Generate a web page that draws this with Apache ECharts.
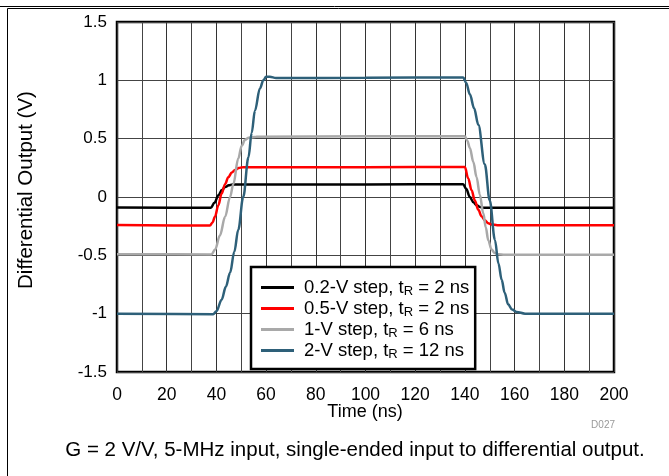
<!DOCTYPE html>
<html>
<head>
<meta charset="utf-8">
<script src="https://cdn.jsdelivr.net/npm/echarts@6/dist/echarts.min.js"></script>
<style>html,body{margin:0;padding:0;background:#fff;}#c{width:669px;height:476px;}</style>
</head>
<body>
<div id="c"></div>
<script>
var seriesNames = ['0.2-V step, t{sub|R} = 2 ns', '0.5-V step, t{sub|R} = 2 ns', '1-V step, t{sub|R} = 6 ns', '2-V step, t{sub|R} = 12 ns'];
var xTicks = [0, 20, 40, 60, 80, 100, 120, 140, 160, 180, 200];
var yTicks = [-1.5, -1, -0.5, 0, 0.5, 1, 1.5];

var step02 = [[0,-0.09],[37.8,-0.092],[39.2,-0.05],[40.8,0.014],[42.2,0.06],[43.5,0.085],[45,0.1],[46.5,0.108],[60,0.108],[100,0.108],[139.3,0.11],[140.5,0.07],[142,0.0],[143.4,-0.045],[144.7,-0.07],[146,-0.085],[147.6,-0.092],[170,-0.092],[200,-0.092]];
var step05 = [[0,-0.24],[37.4,-0.245],[38.4,-0.22],[39.4,-0.17],[40.8,-0.07],[42.1,0.03],[43.5,0.11],[44.8,0.17],[46.2,0.21],[47.5,0.232],[49,0.248],[50.5,0.255],[100,0.256],[140,0.258],[141.3,0.16],[142.7,0.057],[144,-0.03],[145.4,-0.11],[146.7,-0.165],[148,-0.2],[149.4,-0.225],[150.7,-0.235],[153,-0.242],[200,-0.243]];
var step1 = [[0,-0.49],[38,-0.492],[39.5,-0.45],[41.4,-0.33],[43.5,-0.17],[45.5,0.0],[46.8,0.11],[48.8,0.33],[50.2,0.44],[51.5,0.49],[53,0.508],[56,0.517],[100,0.52],[140,0.52],[141,0.48],[142,0.42],[143.4,0.3],[144.7,0.17],[146,0.02],[147.4,-0.14],[148.4,-0.26],[149.4,-0.37],[150.7,-0.45],[152,-0.48],[153.4,-0.49],[156,-0.495],[200,-0.495]];
var step2 = [[0,-1.0],[38.7,-1.005],[40,-0.98],[42.1,-0.88],[43.8,-0.77],[45.5,-0.65],[47.2,-0.47],[48.8,-0.28],[50.8,0.0],[52.9,0.34],[54.2,0.55],[55.5,0.74],[57.5,0.93],[58.9,1.0],[60,1.03],[61.5,1.03],[64,1.02],[100,1.022],[139.3,1.025],[140.5,0.98],[142,0.88],[143.7,0.76],[145.4,0.62],[148,0.28],[150,-0.03],[152.1,-0.37],[153.5,-0.57],[154.8,-0.71],[156,-0.82],[157.4,-0.92],[159,-0.965],[160.8,-0.985],[164.2,-1.0],[200,-1.0]];

var colors = ['#000000', '#ff0000', '#a9a9a9', '#2e6079'];
var dataSets = [step02, step05, step1, step2];
var FONT = 'Liberation Sans, Arial, sans-serif';

var chart = echarts.init(document.getElementById('c'));
var series = dataSets.map(function (d, i) {
  return {
    name: seriesNames[i],
    type: 'line',
    data: d,
    showSymbol: false,
    smooth: 0.35,
    smoothMonotone: 'x',
    lineStyle: { color: colors[i], width: 2.5 },
    itemStyle: { color: colors[i] },
    z: 3 + i
  };
});

chart.setOption({
  animation: false,
  backgroundColor: '#fff',
  textStyle: { fontFamily: FONT },
  grid: { left: 117, right: 55, top: 22, bottom: 104, show: true, borderColor: '#000', borderWidth: 2.5, backgroundColor: 'transparent' },
  xAxis: {
    type: 'value', min: xTicks[0], max: xTicks[xTicks.length - 1], interval: 20,
    axisLine: { show: false }, axisTick: { show: false },
    axisLabel: { color: '#000', fontSize: 17.5, margin: 14, fontFamily: FONT },
    splitLine: { show: true, lineStyle: { color: '#333', width: 1 } },
    minorTick: { show: false, splitNumber: 2 },
    minorSplitLine: { show: true, lineStyle: { color: '#444', width: 1 } }
  },
  yAxis: {
    type: 'value', min: yTicks[0], max: yTicks[yTicks.length - 1], interval: 0.5,
    axisLine: { show: false }, axisTick: { show: false },
    axisLabel: { color: '#000', fontSize: 17, margin: 10, fontFamily: FONT },
    splitLine: { show: true, lineStyle: { color: '#444', width: 1 } }
  },
  legend: {
    orient: 'vertical', left: 251, top: 267,
    backgroundColor: '#fff', borderColor: '#000', borderWidth: 2.5,
    padding: [10, 6, 8, 10], itemGap: 0, itemWidth: 33, itemHeight: 3,
    icon: 'rect',
    data: seriesNames,
    textStyle: {
      color: '#000', fontSize: 18.5, lineHeight: 21, fontFamily: FONT, padding: [0, 0, 0, 5],
      rich: { sub: { fontSize: 13, verticalAlign: 'bottom', padding: [7, 0, 0, 0], lineHeight: 21, fontFamily: FONT } }
    }
  },
  graphic: [
    { type: 'rect', left: 5, top: 6, shape: { width: 700, height: 500 }, style: { fill: 'none', stroke: '#000', lineWidth: 1 }, silent: true, z: 0 },
    { type: 'line', shape: { x1: 0, y1: 6.5, x2: 669, y2: 6.5 }, style: { stroke: '#000', lineWidth: 1 }, silent: true },
    { type: 'text', x: 26, y: 190, rotation: Math.PI / 2, style: { text: 'Differential Output (V)', fontSize: 20.5, fill: '#000', align: 'center', verticalAlign: 'middle', fontFamily: FONT } },
    { type: 'text', x: 365, y: 412, style: { text: 'Time (ns)', fontSize: 18, fill: '#000', align: 'center', verticalAlign: 'middle', fontFamily: FONT } },
    { type: 'text', x: 615, y: 425, style: { text: 'D027', fontSize: 10, fill: '#999', align: 'right', verticalAlign: 'middle', fontFamily: FONT } },
    { type: 'text', x: 355, y: 450, style: { text: 'G = 2 V/V, 5-MHz input, single-ended input to differential output.', fontSize: 20.5, fill: '#000', align: 'center', verticalAlign: 'middle', fontFamily: FONT } }
  ],
  series: series
});
</script>
</body>
</html>
